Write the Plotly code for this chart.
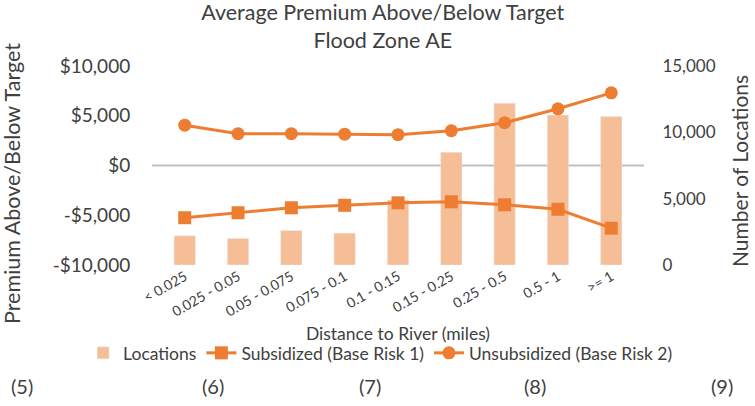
import plotly.graph_objects as go

categories = ["< 0.025", "0.025 - 0.05", "0.05 - 0.075", "0.075 - 0.1", "0.1 - 0.15",
              "0.15 - 0.25", "0.25 - 0.5", "0.5 - 1", ">= 1"]
locations = [2200, 2000, 2600, 2400, 4900, 8500, 12200, 11300, 11200]
subsidized = [-5250, -4750, -4250, -4000, -3750, -3650, -3950, -4400, -6300]
unsubsidized = [4050, 3200, 3200, 3150, 3100, 3500, 4300, 5700, 7300]

premium_ticks = [-10000, -5000, 0, 5000, 10000]
premium_labels = ["-$10,000", "-$5,000", "$0", "$5,000", "$10,000"]
loc_ticks = [0, 5000, 10000, 15000]
loc_labels = ["0", "5,000", "10,000", "15,000"]
footnotes = ["(5)", "(6)", "(7)", "(8)", "(9)"]
footnote_x = [-0.264, 0.124, 0.443, 0.778, 1.159]

ORANGE = "#ED7D31"
BAR = "#F5BE97"
TXT = "#404040"
FONT = "Lato"

fig = go.Figure()
fig.add_trace(go.Bar(x=categories, y=locations, name="Locations", marker_color=BAR,
                     yaxis="y"))
fig.add_trace(go.Scatter(x=categories, y=subsidized, name="Subsidized (Base Risk 1)",
                         mode="lines+markers", yaxis="y2",
                         line=dict(color=ORANGE, width=3),
                         marker=dict(symbol="square", size=13, color=ORANGE)))
fig.add_trace(go.Scatter(x=categories, y=unsubsidized, name="Unsubsidized (Base Risk 2)",
                         mode="lines+markers", yaxis="y2",
                         line=dict(color=ORANGE, width=3),
                         marker=dict(symbol="circle", size=13, color=ORANGE)))

fig.add_shape(type="line", xref="paper", yref="y2", x0=0, x1=1, y0=0, y1=0,
              line=dict(color="#BFBFBF", width=2), layer="below")

for t, x in zip(footnotes, footnote_x):
    fig.add_annotation(text=t, xref="paper", yref="paper", x=x, y=-0.608,
                       showarrow=False, font=dict(size=20, color=TXT, family=FONT),
                       xanchor="center", yanchor="middle")

# axis titles (placed like the original, slightly off-centre)
fig.add_annotation(text="Premium Above/Below Target", textangle=-90,
                   xref="paper", yref="paper", x=-0.2846, y=0.412,
                   xanchor="center", yanchor="middle", showarrow=False,
                   font=dict(size=21.5, color=TXT, family=FONT))
fig.add_annotation(text="Number of Locations", textangle=-90,
                   xref="paper", yref="paper", x=1.193, y=0.472,
                   xanchor="center", yanchor="middle", showarrow=False,
                   font=dict(size=21, color=TXT, family=FONT))

fig.update_layout(
    width=755, height=406,
    margin=dict(l=152, r=111, t=66, b=141, autoexpand=False),
    paper_bgcolor="white", plot_bgcolor="white",
    font=dict(family=FONT, color=TXT),
    title=dict(text="Average Premium Above/Below Target<br>Flood Zone AE",
               x=0.507, xanchor="center", y=0.951, yanchor="top", yref="container",
               font=dict(size=21.5, color=TXT)),
    bargap=0.6,
    showlegend=True,
    legend=dict(orientation="h", x=-0.14, xanchor="left", y=-0.442, yanchor="middle",
                font=dict(size=17.5, color=TXT), bgcolor="rgba(0,0,0,0)"),
    xaxis=dict(showgrid=False, showline=False, zeroline=False, tickangle=-30,
               tickfont=dict(size=14, color=TXT),
               title=dict(text="Distance to River (miles)", font=dict(size=17.5, color=TXT),
                          standoff=9)),
    yaxis=dict(side="right", range=[0, 15000], tickvals=loc_ticks, ticktext=loc_labels,
               showgrid=False, zeroline=False, showline=False,
               ticks="outside", ticklen=14, tickcolor="rgba(0,0,0,0)",
               tickfont=dict(size=17, color=TXT)),
    yaxis2=dict(side="left", overlaying="y", range=[-10000, 10000],
                tickvals=premium_ticks, ticktext=premium_labels,
                showgrid=False, zeroline=False, showline=False,
                ticks="outside", ticklen=17, tickcolor="rgba(0,0,0,0)",
                tickfont=dict(size=19, color=TXT)),
)

fig.write_html("out.html", config={"displayModeBar": False},
               post_script="document.body.style.margin='0';")
